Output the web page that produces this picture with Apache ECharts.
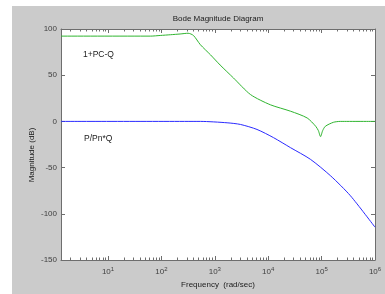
<!DOCTYPE html>
<html>
<head>
<meta charset="utf-8">
<script src="https://cdn.jsdelivr.net/npm/echarts@6/dist/echarts.min.js"></script>
<style>
  html, body { margin: 0; padding: 0; background: #fff; }
  #chart { width: 385px; height: 294px; }
</style>
</head>
<body>
<div id="chart"></div>
<script>
// frequency points (rad/sec) and magnitudes (dB)
const greenFreq = [1.32, 63, 95, 148, 224, 316, 398, 537, 832, 1259, 2239, 4677, 10965, 26300, 53700, 77600, 87100, 95500, 104700, 117500, 166000, 224000, 1000000]
const greenMag  = [92.3, 92.3, 93, 93.8, 94.6, 95.4, 93, 83, 72, 61, 47, 29, 18, 11, 3.7, -5.3, -10, -16.5, -10, -5.3, -1, 0, 0]

const blueFreq = [1.32, 537, 1700, 3020, 6170, 12600, 26300, 61700, 148000, 347000, 1000000]
const blueMag  = [0, 0, -1.5, -3.3, -8.7, -17.6, -28.5, -41, -59, -80.5, -114.5]

const xMajorTicks = [10, 100, 1000, 10000, 100000, 1000000]
const xMajorExp = ['1', '2', '3', '4', '5', '6']
const xMinorTicks = []
for (const dec of [1, 10, 100, 1000, 10000, 100000]) {
  for (const k of [2, 3, 4, 5, 6, 7, 8, 9]) xMinorTicks.push(k * dec)
}

const axisColor = '#6e6e6e'
const textColor = '#404040'
const font = 'Liberation Sans, Arial, sans-serif'

const chart = echarts.init(document.getElementById('chart'))

const xBase = {
  type: 'log',
  logBase: 10,
  min: 1.318,
  max: 1000000,
  gridIndex: 0,
  splitLine: { show: false },
  minorTick: { show: false },
  axisLine: { show: false, onZero: false },
  axisLabel: { show: false }
}

const tickStyle = (len, values) => ({
  show: true, inside: true, length: len, customValues: values, lineStyle: { color: axisColor }
})

chart.setOption({
  backgroundColor: '#fff',
  animation: false,
  graphic: [
    { type: 'rect', z: -10, shape: { x: 12, y: 6, width: 373, height: 288 }, style: { fill: '#cbcbcb' } },
    { type: 'text', x: 218, y: 19, style: { text: 'Bode Magnitude Diagram', font: '8px ' + font, fill: '#202020', align: 'center', verticalAlign: 'middle' } },
    { type: 'text', x: 83, y: 55, z: 10, style: { text: '1+PC-Q', font: '8.5px ' + font, fill: '#202020', verticalAlign: 'middle' } },
    { type: 'text', x: 84, y: 139, z: 10, style: { text: 'P/Pn*Q', font: '8.5px ' + font, fill: '#202020', verticalAlign: 'middle' } },
    { type: 'text', x: 32, y: 155, rotation: Math.PI / 2, style: { text: 'Magnitude (dB)', font: '8px ' + font, fill: '#202020', align: 'center', verticalAlign: 'middle' } }
  ],
  grid: {
    left: 61, top: 29, right: 10, bottom: 33,
    show: true, backgroundColor: '#fff', borderWidth: 0
  },
  xAxis: [
    Object.assign({}, xBase, {
      position: 'bottom',
      axisLine: { show: true, onZero: false, lineStyle: { color: axisColor } },
      axisTick: tickStyle(4, xMajorTicks),
      axisLabel: {
        show: true,
        customValues: xMajorTicks,
        margin: 6,
        color: textColor,
        fontFamily: font,
        fontSize: 8,
        formatter: (v) => '10{sup|' + xMajorExp[xMajorTicks.indexOf(v)] + '}',
        rich: { sup: { fontSize: 6, verticalAlign: 'top', padding: [0, 0, 6, 0], color: textColor, fontFamily: font } }
      },
      name: 'Frequency  (rad/sec)',
      nameLocation: 'middle',
      nameGap: 21,
      nameTextStyle: { color: '#202020', fontFamily: font, fontSize: 8 }
    }),
    Object.assign({}, xBase, { position: 'bottom', axisTick: tickStyle(2.5, xMinorTicks) }),
    Object.assign({}, xBase, {
      position: 'top',
      axisLine: { show: true, onZero: false, lineStyle: { color: axisColor } },
      axisTick: tickStyle(4, xMajorTicks)
    }),
    Object.assign({}, xBase, { position: 'top', axisTick: tickStyle(2.5, xMinorTicks) })
  ],
  yAxis: [
    {
      type: 'value', min: -150, max: 100, interval: 50, position: 'left',
      splitLine: { show: false },
      axisLine: { show: true, onZero: false, lineStyle: { color: axisColor } },
      axisTick: { show: true, inside: true, length: 4, lineStyle: { color: axisColor } },
      axisLabel: { color: textColor, fontFamily: font, fontSize: 8, margin: 4 }
    },
    {
      type: 'value', min: -150, max: 100, interval: 50, position: 'right',
      splitLine: { show: false },
      axisLine: { show: true, onZero: false, lineStyle: { color: axisColor } },
      axisTick: { show: true, inside: true, length: 4, lineStyle: { color: axisColor } },
      axisLabel: { show: false }
    }
  ],
  series: [
    {
      name: '1+PC-Q', type: 'line', xAxisIndex: 0, yAxisIndex: 0,
      data: greenFreq.map((f, i) => [f, greenMag[i]]),
      smooth: 0.25, showSymbol: false,
      lineStyle: { color: '#2fb52f', width: 1 }
    },
    {
      name: 'P/Pn*Q', type: 'line', xAxisIndex: 0, yAxisIndex: 0,
      data: blueFreq.map((f, i) => [f, blueMag[i]]),
      smooth: 0.25, showSymbol: false,
      lineStyle: { color: '#2a2aff', width: 1 }
    }
  ]
})
</script>
</body>
</html>
